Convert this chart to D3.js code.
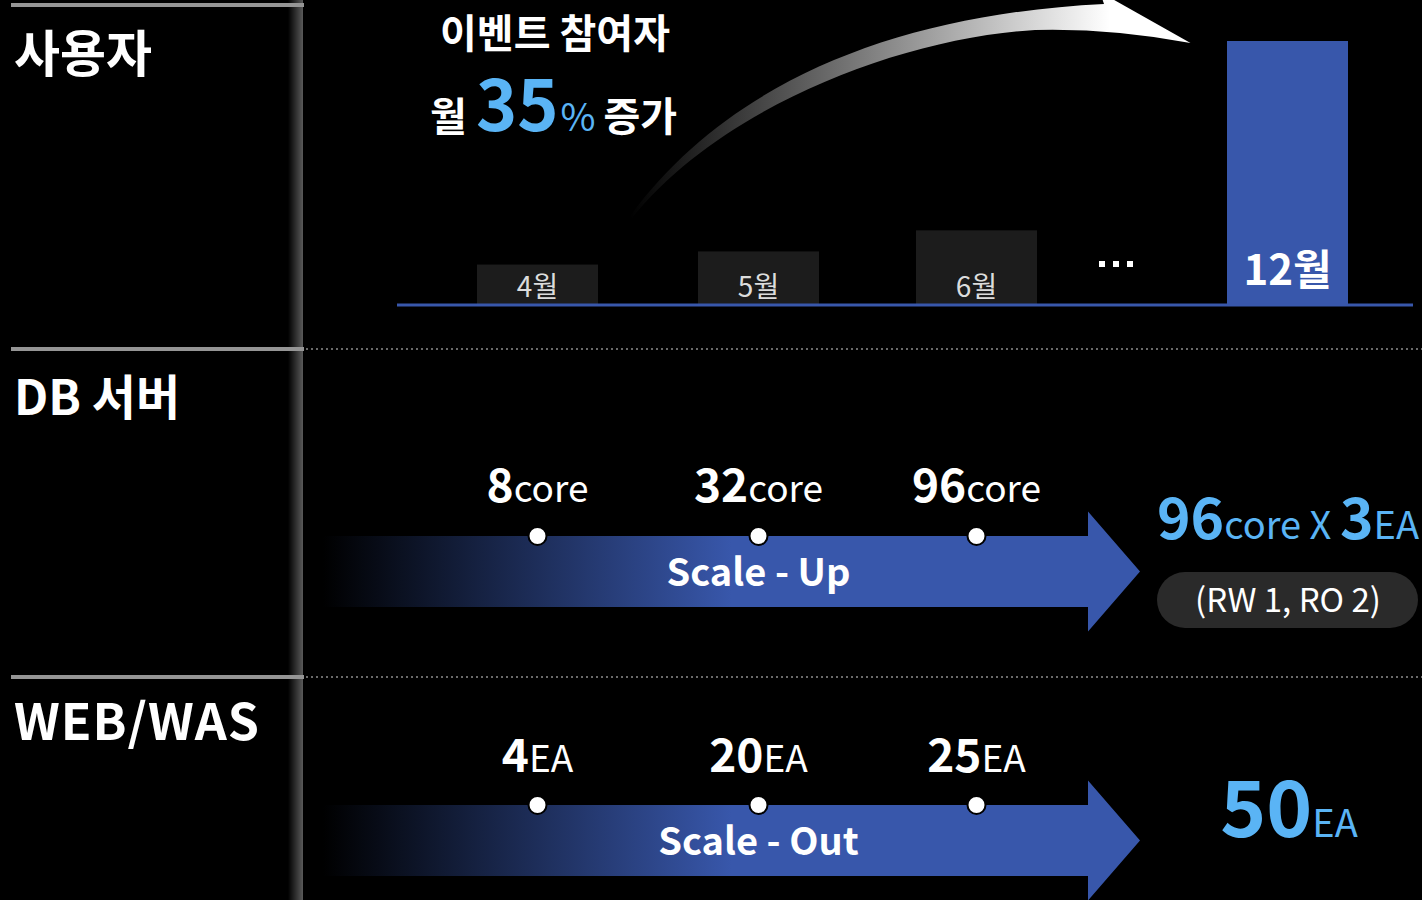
<!DOCTYPE html>
<html>
<head>
<meta charset="utf-8">
<script src="https://cdn.jsdelivr.net/npm/d3@7"></script>
<style>
  html, body { margin: 0; padding: 0; background: #000; overflow: hidden; }
  text { font-family: "Noto Sans CJK KR", "Noto Sans", sans-serif; }
</style>
</head>
<body>
<script>
// data
var months = ["4월", "5월", "6월", "12월"];
var users = [15, 20, 28, 100];
var dbCores = ["8", "32", "96"];
var webCounts = ["4", "20", "25"];
var sections = ["사용자", "DB 서버", "WEB/WAS"];

var blue = "#3857ab", lightBlue = "#5ab4f5";

let svg = d3.select("body")
            .append("svg")
            .attr("width", 1422)
            .attr("height", 900);

let defs = svg.append("defs");

// fade strip at the right edge of the label column
let strip = defs.append("linearGradient").attr("id", "strip");
strip.append("stop").attr("offset", "0%").attr("stop-color", "#000");
strip.append("stop").attr("offset", "100%").attr("stop-color", "#5a5a5a");

let arrowFade = defs.append("linearGradient").attr("id", "arrowFade")
            .attr("gradientUnits", "userSpaceOnUse")
            .attr("x1", 323).attr("x2", 1140);
arrowFade.append("stop").attr("offset", "0%").attr("stop-color", "#000");
arrowFade.append("stop").attr("offset", "50%").attr("stop-color", blue);
arrowFade.append("stop").attr("offset", "100%").attr("stop-color", blue);

let curveFade = defs.append("linearGradient").attr("id", "curveFade")
            .attr("gradientUnits", "userSpaceOnUse")
            .attr("x1", 630).attr("x2", 1110);
curveFade.append("stop").attr("offset", "0%").attr("stop-color", "#000");
curveFade.append("stop").attr("offset", "100%").attr("stop-color", "#fff");

svg.append("rect").attr("x", 288).attr("y", 0).attr("width", 15).attr("height", 900)
   .attr("fill", "url(#strip)");

// section rows
let rowY = [5, 349, 677];
let labelY = [72, 415, 740];
let labelSize = [50, 48, 50];

rowY.forEach((y, i) => {
    svg.append("rect").attr("x", 11).attr("y", y - 2).attr("width", 293).attr("height", 4)
       .attr("fill", "#959595");
    if (i > 0) {
        svg.append("line")
           .attr("x1", 306).attr("x2", 1422).attr("y1", y).attr("y2", y)
           .attr("stroke", "#6a6a6a").attr("stroke-width", 2)
           .attr("stroke-dasharray", "2,3");
    }
    svg.append("text")
       .attr("x", 14).attr("y", labelY[i])
       .attr("fill", "#fff")
       .attr("font-size", labelSize[i])
       .attr("font-weight", i == 0 ? 700 : 600)
       .attr("letter-spacing", i == 2 ? 1 : 0)
       .text(sections[i]);
});

// scales
let x = d3.scaleOrdinal().domain(months).range([537.5, 758.5, 976.5, 1287.5]);
let barW = 121;
let y = d3.scaleLinear().domain([0, 100]).range([304, 41]);

// bars
svg.selectAll(".bar")
   .data(months)
   .enter().append("rect")
   .attr("class", "bar")
   .attr("x", d => x(d) - barW / 2)
   .attr("width", barW)
   .attr("y", (d, i) => y(users[i]))
   .attr("height", (d, i) => y(0) - y(users[i]))
   .attr("fill", (d, i) => i == months.length - 1 ? blue : "#1c1c1c");

svg.append("line")
   .attr("x1", 397).attr("x2", 1413).attr("y1", y(0) + 1).attr("y2", y(0) + 1)
   .attr("stroke", blue).attr("stroke-width", 3);

svg.selectAll(".mlabel")
   .data(months)
   .enter().append("text")
   .attr("x", d => x(d))
   .attr("y", (d, i) => i == months.length - 1 ? 285 : 297)
   .attr("text-anchor", "middle")
   .attr("fill", (d, i) => i == months.length - 1 ? "#fff" : "#dcdcdc")
   .attr("font-size", (d, i) => i == months.length - 1 ? 42 : 28)
   .attr("font-weight", (d, i) => i == months.length - 1 ? 700 : 400)
   .text(d => d);

// ellipsis between 6월 and 12월
[0, 1, 2].forEach(k => {
    svg.append("rect").attr("x", 1099 + k * 14).attr("y", 261)
       .attr("width", 6).attr("height", 6).attr("fill", "#fff");
});

// curved growth arrow
let cx0 = 630, cy0 = 216;
let tipX = x("12월") - 97, tipY = 43;
let curve = d3.path();
curve.moveTo(cx0, cy0);
curve.bezierCurveTo(730, 80, 900, 14, 1104, 4);
curve.lineTo(1100, -8);
curve.lineTo(tipX, tipY);
curve.quadraticCurveTo(1110, 28, 1035, 30);
curve.bezierCurveTo(900, 38, 720, 108, cx0 + 2, cy0 + 2);
curve.closePath();
svg.append("path").attr("d", curve.toString()).attr("fill", "url(#curveFade)");

// headline
svg.append("text")
   .attr("x", 555).attr("y", 48)
   .attr("text-anchor", "middle")
   .attr("fill", "#fff").attr("font-size", 40).attr("font-weight", 700)
   .text("이벤트 참여자");

let head = svg.append("text")
   .attr("x", 430).attr("y", 131)
   .attr("fill", "#fff").attr("font-weight", 700);
head.append("tspan").attr("font-size", 40).text("월 ");
head.append("tspan").attr("font-size", 70).attr("fill", lightBlue).text("35");
head.append("tspan").attr("font-size", 38).attr("font-weight", 400).attr("fill", lightBlue).attr("dx", 2).text("%");
head.append("tspan").attr("font-size", 40).attr("dx", 8).text("증가");

// big scale arrows
let arrowTop = [536, 805];
let shaftH = 71;
let arrowLine = d3.line();

function bigArrow(top, label, nums, unit, labelBase) {
    let mid = top + shaftH / 2;
    let pts = [[323, top], [1088, top], [1088, mid - 60], [1140, mid], [1088, mid + 60],
               [1088, top + shaftH], [323, top + shaftH]];
    svg.append("path").attr("d", arrowLine(pts) + "Z").attr("fill", "url(#arrowFade)");

    svg.append("text")
       .attr("x", x("5월")).attr("y", top + 50)
       .attr("text-anchor", "middle")
       .attr("fill", "#fff").attr("font-size", 38).attr("font-weight", 600)
       .text(label);

    nums.forEach((n, i) => {
        let cx = x(months[i]);
        svg.append("circle").attr("cx", cx).attr("cy", top).attr("r", 9)
           .attr("fill", "#fff").attr("stroke", "#000").attr("stroke-width", 2);
        let t = svg.append("text")
           .attr("x", cx).attr("y", labelBase)
           .attr("text-anchor", "middle").attr("fill", "#fff");
        t.append("tspan").attr("font-size", 46).attr("font-weight", 700).text(n);
        t.append("tspan").attr("font-size", 37).attr("font-weight", 400).text(unit);
    });
}

bigArrow(arrowTop[0], "Scale - Up", dbCores, "core", 502);
bigArrow(arrowTop[1], "Scale - Out", webCounts, "EA", 772);

// DB result
let dbRes = svg.append("text")
   .attr("x", 1288).attr("y", 539)
   .attr("text-anchor", "middle").attr("fill", lightBlue);
dbRes.append("tspan").attr("font-size", 57).attr("font-weight", 700).text("96");
dbRes.append("tspan").attr("font-size", 38).attr("font-weight", 400).text("core X ");
dbRes.append("tspan").attr("font-size", 57).attr("font-weight", 700).text("3");
dbRes.append("tspan").attr("font-size", 38).attr("font-weight", 400).text("EA");

svg.append("rect").attr("x", 1157).attr("y", 572).attr("width", 261).attr("height", 56)
   .attr("rx", 28).attr("fill", "#2a2a2a");
svg.append("text")
   .attr("x", 1288).attr("y", 612)
   .attr("text-anchor", "middle").attr("fill", "#fff").attr("font-size", 33)
   .text("(RW 1, RO 2)");

// WEB result
let webRes = svg.append("text")
   .attr("x", 1289).attr("y", 837)
   .attr("text-anchor", "middle").attr("fill", lightBlue);
webRes.append("tspan").attr("font-size", 78).attr("font-weight", 700).text("50");
webRes.append("tspan").attr("font-size", 38).attr("font-weight", 400).text("EA");
</script>
</body>
</html>
